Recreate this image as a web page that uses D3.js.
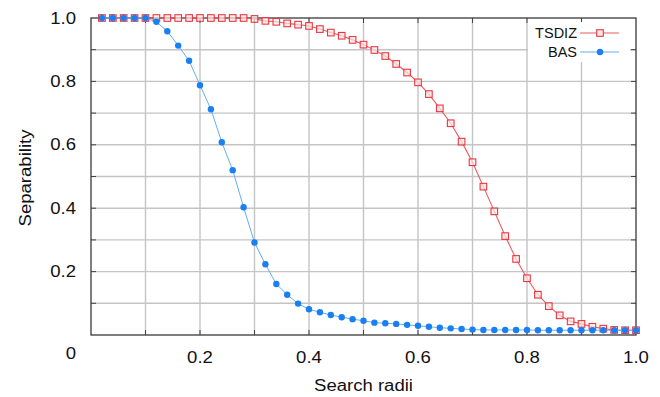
<!DOCTYPE html>
<html>
<head>
<meta charset="utf-8">
<script src="https://cdn.jsdelivr.net/npm/d3@7"></script>
<style>
  body { margin: 0; background: #fff; }
  text { font-family: "Liberation Sans", Arial, sans-serif; fill: #111; }
</style>
</head>
<body>
<div id="chart"></div>
<script>
// raios de busca (0.02 .. 1.0)
var radii = d3.range(1, 51).map(function(i) { return +(i * 0.02).toFixed(2); });

var tsdiz = [1, 1, 1, 1, 1, 1, 1, 1, 1, 1,
             1, 1, 1, 1, 0.997, 0.991, 0.988, 0.983, 0.979, 0.975,
             0.965, 0.954, 0.944, 0.931, 0.916, 0.899, 0.880, 0.855, 0.828, 0.797,
             0.760, 0.715, 0.668, 0.610, 0.545, 0.468, 0.390, 0.312, 0.240, 0.179,
             0.127, 0.091, 0.062, 0.043, 0.035, 0.026, 0.020, 0.016, 0.015, 0.015];

var bas = [1, 1, 1, 1, 1, 0.988, 0.958, 0.913, 0.865, 0.788,
           0.712, 0.608, 0.520, 0.403, 0.292, 0.223, 0.161, 0.127, 0.099, 0.081,
           0.072, 0.063, 0.056, 0.050, 0.045, 0.039, 0.037, 0.035, 0.032, 0.029,
           0.026, 0.023, 0.021, 0.019, 0.017, 0.016, 0.016, 0.016, 0.016, 0.016,
           0.015, 0.015, 0.015, 0.015, 0.015, 0.015, 0.015, 0.015, 0.015, 0.015];

var xTicks = [0.2, 0.4, 0.6, 0.8, 1.0];
var yTicks = [0.2, 0.4, 0.6, 0.8, 1.0];
var gridVals = d3.range(1, 10).map(function(i) { return i / 10; });
var seriesNames = ["TSDIZ", "BAS"];

var W = 660, H = 397;
var m = { left: 91, right: 24, top: 18, bottom: 62 };

var fx = d3.scaleLinear().domain([0, 1]).range([m.left, W - m.right]);
var fy = d3.scaleLinear().domain([0, 1]).range([H - m.bottom, m.top]);

var svg = d3.select("#chart").append("svg")
    .attr("width", W)
    .attr("height", H);

// texto um pouco alargado, como na figura original
function rotulo(x, y, txt, anchor, rot) {
    var g = svg.append("g")
        .attr("transform", "translate(" + x + "," + y + ")" +
              (rot ? " rotate(-90)" : "") + " scale(1.16,1)");
    g.append("text")
        .attr("dy", ".35em")
        .style("text-anchor", anchor)
        .style("font-size", "16px")
        .text(txt);
    return g;
}

// grade
var grid = svg.append("g").attr("stroke", "#c4c4c4").attr("stroke-width", 1.4);
grid.selectAll(".gx").data(gridVals).enter().append("line")
    .attr("x1", function(d) { return fx(d); })
    .attr("x2", function(d) { return fx(d); })
    .attr("y1", fy(0)).attr("y2", fy(1));
grid.selectAll(".gy").data(gridVals).enter().append("line")
    .attr("y1", function(d) { return fy(d); })
    .attr("y2", function(d) { return fy(d); })
    .attr("x1", fx(0)).attr("x2", fx(1));

// ticks internos nos quatro lados
var tk = 5;
var ticks = svg.append("g").attr("stroke", "#444").attr("stroke-width", 1);
gridVals.forEach(function(d) {
    ticks.append("line").attr("x1", fx(0)).attr("x2", fx(0) + tk).attr("y1", fy(d)).attr("y2", fy(d));
    ticks.append("line").attr("x1", fx(1)).attr("x2", fx(1) - tk).attr("y1", fy(d)).attr("y2", fy(d));
    ticks.append("line").attr("y1", fy(0)).attr("y2", fy(0) - tk).attr("x1", fx(d)).attr("x2", fx(d));
    ticks.append("line").attr("y1", fy(1)).attr("y2", fy(1) + tk).attr("x1", fx(d)).attr("x2", fx(d));
});

// moldura
svg.append("rect")
    .attr("x", fx(0)).attr("y", fy(1))
    .attr("width", fx(1) - fx(0)).attr("height", fy(0) - fy(1))
    .attr("fill", "none").attr("stroke", "#3a3a3a").attr("stroke-width", 1.3);

// rótulos dos eixos
xTicks.forEach(function(d) { rotulo(fx(d), fy(0) + 22, d.toFixed(1), "middle"); });
yTicks.forEach(function(d) { rotulo(fx(0) - 15, fy(d), d.toFixed(1), "end"); });
// o zero fica no canto, abaixo do eixo
rotulo(fx(0) - 15, fy(0) + 18, "0", "end");

rotulo((fx(0) + fx(1)) / 2, 385, "Search radii", "middle");
rotulo(25, 178, "Separability", "middle", true);

var line = d3.line()
    .x(function(d) { return fx(d[0]); })
    .y(function(d) { return fy(d[1]); });

var red = "#e8383f", redLine = "#ee5a60";
var blue = "#1a7ff0", blueLine = "#62aef5";

// legenda (fundo branco cobre a grade)
var lg = svg.append("g");
lg.append("rect").attr("x", 528).attr("y", 22).attr("width", 102).attr("height", 40).attr("fill", "#fff");

// TSDIZ
var dT = radii.map(function(r, i) { return [r, tsdiz[i]]; });
svg.append("path").datum(dT)
    .attr("d", line)
    .attr("fill", "none").attr("stroke", redLine).attr("stroke-width", 1.1);
svg.append("g").selectAll("rect").data(dT).enter().append("rect")
    .attr("x", function(d) { return fx(d[0]) - 3.3; })
    .attr("y", function(d) { return fy(d[1]) - 3.3; })
    .attr("width", 6.6).attr("height", 6.6)
    .attr("fill", "#fde8e8").attr("fill-opacity", 0.7)
    .attr("stroke", red).attr("stroke-width", 1.1);

// BAS
var dB = radii.map(function(r, i) { return [r, bas[i]]; });
svg.append("path").datum(dB)
    .attr("d", line)
    .attr("fill", "none").attr("stroke", blueLine).attr("stroke-width", 1);
svg.append("g").selectAll("circle").data(dB).enter().append("circle")
    .attr("cx", function(d) { return fx(d[0]); })
    .attr("cy", function(d) { return fy(d[1]); })
    .attr("r", 3.2)
    .attr("fill", blue);

// itens da legenda
var items = [
    { name: seriesNames[0], y: 33, c: red, l: redLine, sq: true },
    { name: seriesNames[1], y: 52, c: blue, l: blueLine, sq: false }
];
items.forEach(function(it) {
    lg.append("text")
        .attr("x", 577).attr("y", it.y).attr("dy", ".35em")
        .style("text-anchor", "end").style("font-size", "14.5px")
        .text(it.name);
    lg.append("line")
        .attr("x1", 580).attr("x2", 619).attr("y1", it.y).attr("y2", it.y)
        .attr("stroke", it.l).attr("stroke-width", 1.1);
    if (it.sq)
        lg.append("rect").attr("x", 596.7).attr("y", it.y - 3.3).attr("width", 6.6).attr("height", 6.6)
            .attr("fill", "#fde8e8").attr("stroke", it.c).attr("stroke-width", 1.1);
    else
        lg.append("circle").attr("cx", 600).attr("cy", it.y).attr("r", 3.2).attr("fill", it.c);
});
lg.raise();
</script>
</body>
</html>
